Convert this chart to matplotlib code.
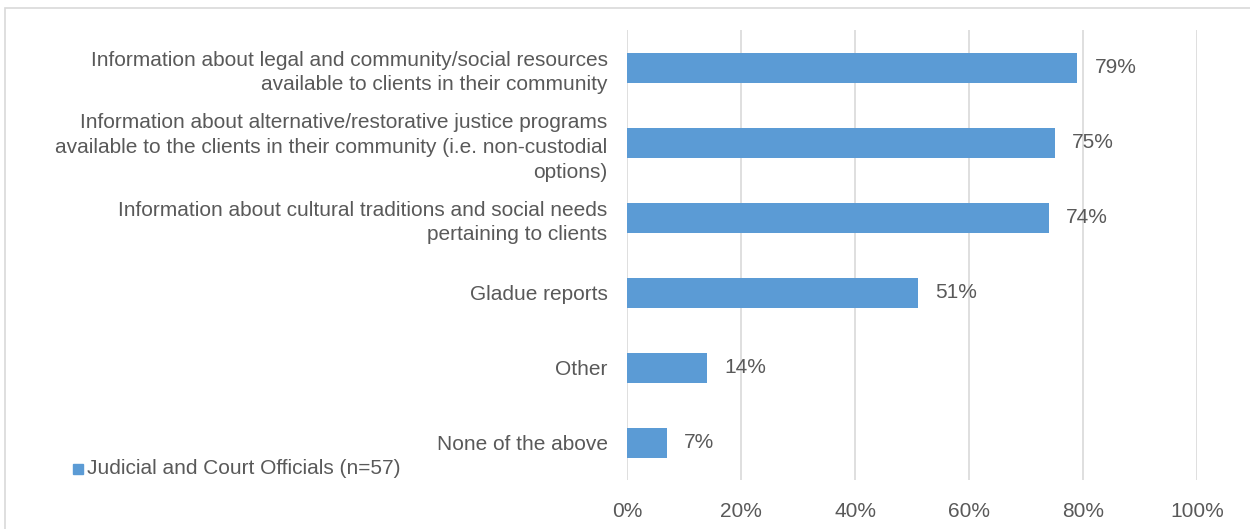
import matplotlib
matplotlib.use("Agg")
import matplotlib.pyplot as plt
from matplotlib.patches import Rectangle

plt.rcParams['font.family'] = ['Liberation Sans', 'DejaVu Sans']

categories = [
    "Information about legal and community/social resources\navailable to clients in their community",
    "Information about alternative/restorative justice programs\navailable to the clients in their community (i.e. non-custodial\noptions)",
    "Information about cultural traditions and social needs\npertaining to clients",
    "Gladue reports",
    "Other",
    "None of the above",
]
values = [79, 75, 74, 51, 14, 7]
series_name = "Judicial and Court Officials (n=57)"
xticks = [0, 20, 40, 60, 80, 100]

BAR = "#5B9BD5"
TEXT = "#595959"
GRID = "#D9D9D9"
FS = 15

fig = plt.figure(figsize=(12.5, 5.29), dpi=100)
ax = fig.add_axes([627 / 1250, 1 - 480 / 529, 570 / 1250, 450 / 529])

ypos = list(range(len(categories)))
ax.barh(ypos, values, height=0.4, color=BAR, zorder=3)
for y, v in zip(ypos, values):
    ax.text(v + 3.0, y, f"{v}%", va="center", ha="left", fontsize=FS, color=TEXT)

ax.set_xlim(0, 100)
ax.set_ylim(len(categories) - 0.5, -0.5)
ax.set_yticks(ypos)
ax.set_yticklabels(categories, fontsize=FS, color=TEXT, ha="right", linespacing=1.38)
ax.set_xticks(xticks)
ax.set_xticklabels([f"{t}%" for t in xticks], fontsize=FS, color=TEXT)
ax.tick_params(axis="both", length=0)
ax.tick_params(axis="y", pad=14)
ax.tick_params(axis="x", pad=16)
ax.grid(axis="x", color=GRID, linewidth=1.2, zorder=0)
for s in ax.spines.values():
    s.set_visible(False)

# legend sits on its own below the category labels
fig.patches.append(Rectangle((73 / 1250, 1 - 474 / 529), 10 / 1250, 10 / 529,
                             transform=fig.transFigure, color=BAR))
fig.text(87 / 1250, 1 - 469 / 529, series_name, fontsize=FS, color=TEXT, va="center")

# chart area frame
fig.patches.append(Rectangle((5 / 1250, -0.01), 1.1, 1 - 8 / 529 + 0.01,
                             transform=fig.transFigure, fill=False,
                             edgecolor=GRID, linewidth=1.2))

fig.savefig("out.png", dpi=100)
